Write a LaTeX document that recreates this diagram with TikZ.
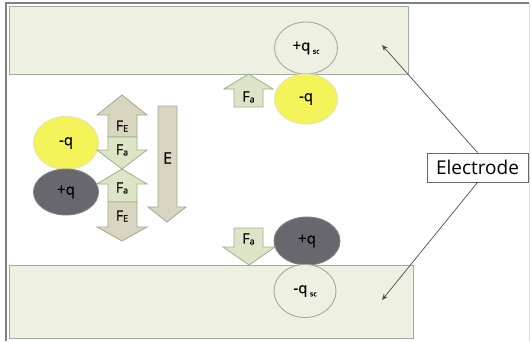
\documentclass[tikz,border=0pt]{standalone}
\usepackage{fontspec}
\setmainfont{Open Sans}[BoldFont=Open Sans,BoldFeatures={FakeBold=0.8}]
\usetikzlibrary{shapes.geometric,arrows.meta}
\definecolor{elecfill}{HTML}{EEF0E2}
\definecolor{elecline}{HTML}{A3ABA0}
\definecolor{tanfill}{HTML}{D8D5C0}
\definecolor{tanline}{HTML}{A8A690}
\definecolor{grnfill}{HTML}{DCE6C6}
\definecolor{grnline}{HTML}{9EAE8C}
\definecolor{ylw}{HTML}{F4F45A}
\definecolor{ylwline}{HTML}{E2E6A8}
\definecolor{drk}{HTML}{67676D}
\definecolor{drkline}{HTML}{7E7E86}
\tikzset{
  electrode/.style={fill=elecfill,draw=elecline,line width=0.9pt},
  charge/.style={ellipse,inner sep=0pt,line width=0.9pt,font=\fontsize{15}{15}\selectfont\bfseries},
  image/.style={charge,draw=elecline,fill=elecfill},
  tanarrow/.style={fill=tanfill,draw=tanline,line width=0.8pt,line join=miter},
  grnarrow/.style={fill=grnfill,draw=grnline,line width=0.8pt,line join=miter},
  flabel/.style={inner sep=0pt,font=\fontsize{14}{14}\selectfont\bfseries},
  pointer/.style={draw=black!70,line width=0.7pt,-{Stealth[length=6pt,width=5pt]}},
}
\newcommand{\Fsub}[1]{F\raisebox{-1pt}{\fontsize{9}{9}\selectfont #1}}
\begin{document}
\begin{tikzpicture}[x=1pt,y=-1pt]
\useasboundingbox (0,0) rectangle (531,341);
\fill[white] (0,0) rectangle (531,341);
% outer frame
\draw[black!50,line width=1.8pt] (6,341) -- (6,3) -- (529,3);
\draw[black!12,line width=0.8pt] (529,3) -- (529,341);

% electrodes
\draw[electrode] (9,6) rectangle (408,74);
\draw[electrode] (9,265) rectangle (413,338);

% charges at the electrodes
\node[image,minimum width=63pt,minimum height=52pt] (sctop) at (306,48) {+q\,\raisebox{-3pt}{\fontsize{7}{7}\selectfont sc}};
\node[charge,draw=ylwline,fill=ylw,minimum width=63pt,minimum height=50pt] (nq) at (306,99) {-q};
\node[charge,draw=drkline,fill=drk,minimum width=66pt,minimum height=48pt] (pq) at (307,241) {+q};
\node[image,minimum width=62pt,minimum height=53pt] (scbot) at (305,291) {-q\,\raisebox{-3pt}{\fontsize{7}{7}\selectfont sc}};

% adhesion forces at the electrodes
\draw[grnarrow] (234,107) -- (234,89) -- (224,89) -- (248.5,74) -- (273,89) -- (263,89) -- (263,107) -- cycle;
\node[flabel] (fat) at (248.5,97) {\Fsub{a}};
\draw[grnarrow] (234,228) -- (234,247) -- (223,247) -- (249,265) -- (275,247) -- (263,247) -- (263,228) -- cycle;
\node[flabel] (fab) at (248.5,239) {\Fsub{a}};

% free pair in the field
\node[charge,draw=ylwline,fill=ylw,minimum width=65pt,minimum height=53pt] (nqf) at (66,143) {-q};
\node[charge,draw=drkline,fill=drk,minimum width=65pt,minimum height=46pt] (pqf) at (66,192) {+q};

% force arrows on the free pair
\draw[tanarrow] (108,137) -- (108,115) -- (97,115) -- (122,95) -- (147,115) -- (137,115) -- (137,137) -- cycle;
\draw[grnarrow] (108,137) -- (108,150) -- (97,150) -- (122,169) -- (147,150) -- (137,150) -- (137,137) -- cycle;
\draw[grnarrow] (108,202) -- (108,184) -- (97,184) -- (122,169) -- (147,184) -- (137,184) -- (137,202) -- cycle;
\draw[tanarrow] (108,202) -- (108,227) -- (97,227) -- (122,241) -- (147,227) -- (137,227) -- (137,202) -- cycle;
\node[flabel] (fe1) at (122,126) {\Fsub{E}};
\node[flabel] (fa1) at (122,150) {\Fsub{a}};
\node[flabel] (fa2) at (122,188) {\Fsub{a}};
\node[flabel] (fe2) at (122,216) {\Fsub{E}};

% applied field
\draw[tanarrow] (158,106) -- (158,207) -- (148,207) -- (167,222) -- (186,207) -- (177,207) -- (177,106) -- cycle;
\node[flabel,font=\fontsize{16}{16}\selectfont\bfseries] (efield) at (167.5,158) {E};

% label
\node[draw=black!60,line width=0.9pt,fill=white,minimum width=101pt,minimum height=29pt,inner sep=0pt,font=\fontsize{19}{19}\selectfont] (lbl) at (477.5,167.5) {Electrode};
\coordinate (ptop) at (382,45);
\coordinate (pbot) at (382,300);
\draw[pointer] (lbl.north) -- (ptop);
\draw[pointer] (lbl.south) -- (pbot);
\end{tikzpicture}
\end{document}
